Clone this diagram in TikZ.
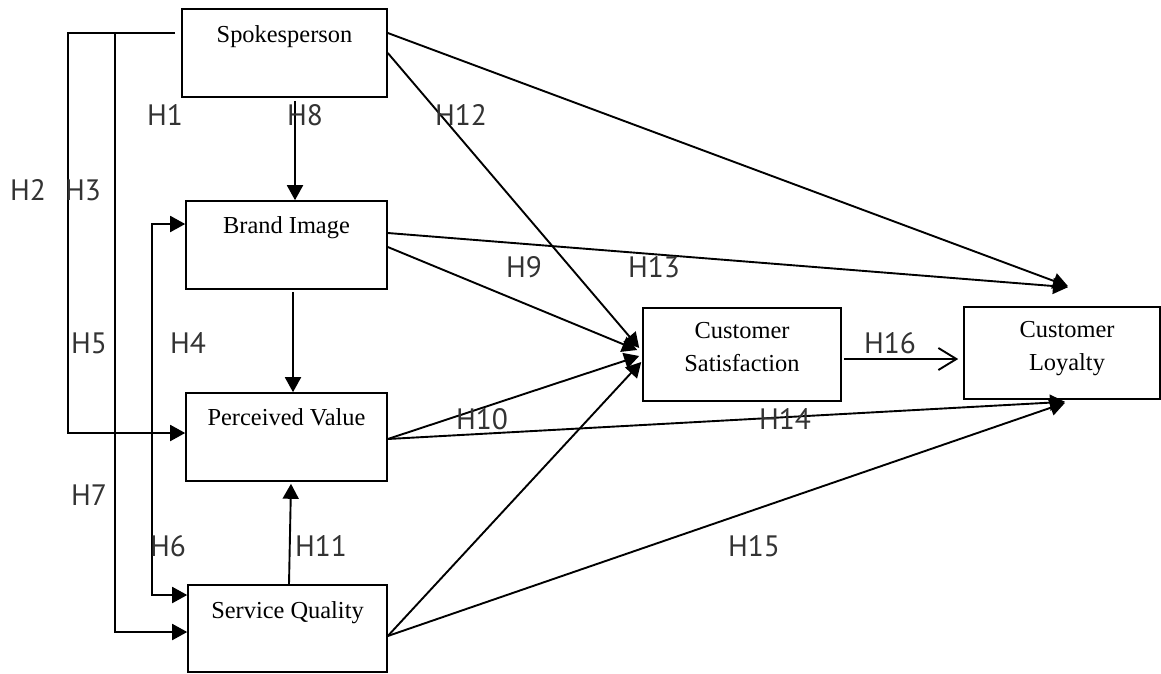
\documentclass[tikz,border=0pt]{standalone}
\usepackage{fontspec}
\setmainfont{Liberation Serif}
\newfontfamily\lblfont{PT Sans}
\usetikzlibrary{arrows.meta,calc}
\begin{document}
\begin{tikzpicture}[x=1pt,y=-1pt,
  box/.style={draw=black, line width=1.6pt, rectangle, inner sep=0pt},
  btxt/.style={font=\fontsize{24.4}{32.5}\selectfont, inner sep=0pt, anchor=base, align=center},
  lbl/.style={font=\lblfont\fontsize{29.5}{29.5}\selectfont, text=black!80, inner sep=0pt},
  arr/.style={line width=1.9pt, -{Triangle[length=15pt,width=16pt]}},
  darr/.style={line width=1.9pt, {Triangle[length=15pt,width=16pt]}-{Triangle[length=15pt,width=16pt]}},
  barb/.style={line width=1.9pt, -{Straight Barb[length=18pt,width=22pt,line width=1.9pt]}}
]
\useasboundingbox (0,0) rectangle (1161,673);
% boxes
\node[box, minimum width=205pt, minimum height=88pt] (sp) at (284.5,53) {};
\node[box, minimum width=201pt, minimum height=88pt] (bi) at (286.5,245) {};
\node[box, minimum width=201pt, minimum height=88pt] (pv) at (286.5,437) {};
\node[box, minimum width=199pt, minimum height=87pt] (sq) at (287.5,628.5) {};
\node[box, minimum width=198pt, minimum height=93pt] (cs) at (742,354.5) {};
\node[box, minimum width=196pt, minimum height=92pt] (cl) at (1062,353) {};
% box texts
\node[btxt] (spt) at ([yshift=-34pt]sp.north) {Spokesperson};
\node[btxt] (bit) at ([yshift=-33pt]bi.north) {Brand Image};
\node[btxt] (pvt) at ([yshift=-33pt]pv.north) {Perceived Value};
\node[btxt] (sqt) at ([yshift=-34pt]sq.north) {Service Quality};
\node[btxt] (cst) at ([yshift=-64pt]cs.north) {Customer\\Satisfaction};
\node[btxt] (clt) at ([xshift=5pt,yshift=-64pt]cl.north) {Customer\\Loyalty};
% left side connectors
\draw[arr] ([xshift=-6pt,yshift=20pt]sp.west) -| ([xshift=-117pt,yshift=4pt]pv.west) -- ([yshift=4pt]pv.west);
\draw[arr] ([xshift=-66pt,yshift=20pt]sp.west) |- ([yshift=-3.5pt]sq.west);
\draw[darr] ([yshift=21pt]bi.west) -| ([xshift=-35pt,yshift=33.5pt]sq.west) -- ([yshift=33.5pt]sq.west);
% vertical connectors
\draw[arr] ([xshift=10.5pt,yshift=-3pt]sp.south) -- ([xshift=8.5pt]bi.north);
\draw[arr] ([xshift=6.5pt,yshift=-2pt]bi.south) -- ([xshift=6.5pt]pv.north);
\draw[arr] ([xshift=1.5pt]sq.north) -- ([xshift=4.5pt,yshift=-2pt]pv.south);
% to customer loyalty
\draw[arr] ([yshift=20pt]sp.east) -- ([xshift=6pt,yshift=20pt]cl.north);
\draw[arr] ([yshift=12pt]bi.east) -- ([xshift=6pt,yshift=19pt]cl.north);
\draw[arr] ([yshift=-2pt]pv.east) -- ([xshift=3pt,yshift=-2pt]cl.south);
\draw[arr] ([yshift=-7.5pt]sq.east) -- ([xshift=3pt,yshift=-3pt]cl.south);
% to customer satisfaction
\draw[arr] (sp.east) -- ([xshift=-3pt,yshift=6.5pt]cs.west);
\draw[arr] ([yshift=-2pt]bi.east) -- ([xshift=-5pt,yshift=4.5pt]cs.west);
\draw[arr] ([yshift=-2pt]pv.east) -- ([xshift=-3pt,yshift=-1.5pt]cs.west);
\draw[arr] ([yshift=-7.5pt]sq.east) -- ([xshift=-1pt,yshift=-7.5pt]cs.west);
% satisfaction to loyalty
\draw[barb] ([xshift=2pt,yshift=-4.5pt]cs.east) -- ([xshift=-5pt,yshift=-6pt]cl.west);
% labels
\node[lbl] (h1) at (165,115) {H1};
\node[lbl] (h8) at (305,115) {H8};
\node[lbl] (h12) at (461,115) {H12};
\node[lbl] (h2) at (28,190) {H2};
\node[lbl] (h3) at (83,190) {H3};
\node[lbl] (h5) at (89,343) {H5};
\node[lbl] (h4) at (188,343) {H4};
\node[lbl] (h9) at (524,267) {H9};
\node[lbl] (h13) at (654,267) {H13};
\node[lbl] (h10) at (482,419) {H10};
\node[lbl] (h14) at (785,419) {H14};
\node[lbl] (h16) at (890,343) {H16};
\node[lbl] (h7) at (89,495) {H7};
\node[lbl] (h6) at (168,546) {H6};
\node[lbl] (h11) at (321,546) {H11};
\node[lbl] (h15) at (754,546) {H15};
\end{tikzpicture}
\end{document}
